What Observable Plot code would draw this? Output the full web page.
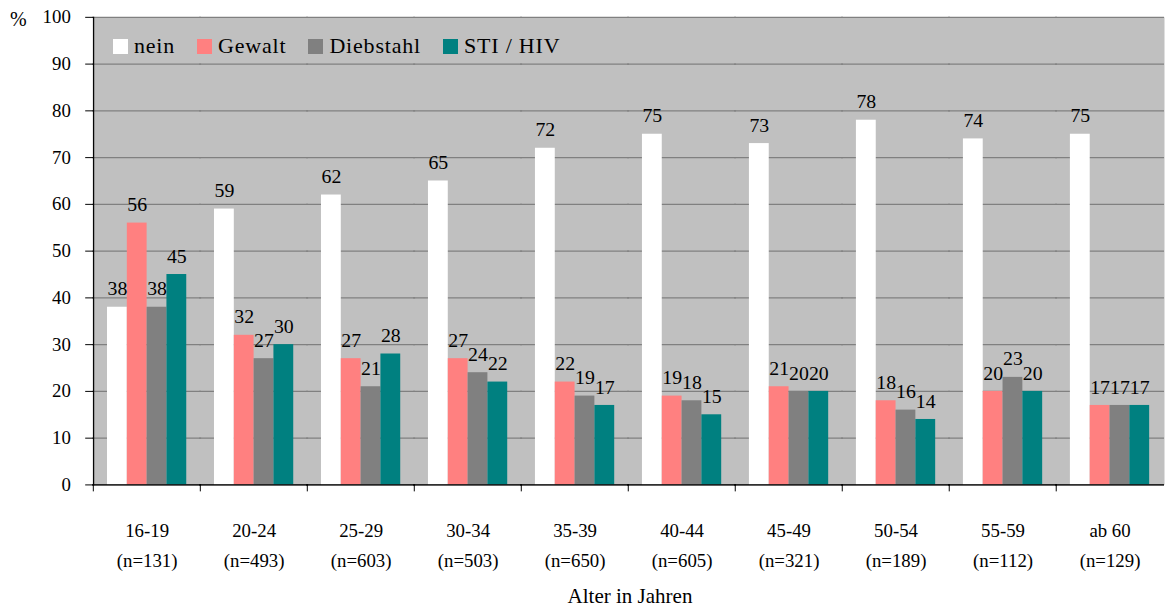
<!DOCTYPE html>
<html>
<head>
<meta charset="utf-8">
<script src="https://cdn.jsdelivr.net/npm/d3@7"></script>
<script src="https://cdn.jsdelivr.net/npm/@observablehq/plot@0.6"></script>
<style>
html, body { margin: 0; padding: 0; background: #fff; overflow: hidden; }
#wrap { position: relative; width: 1166px; height: 608px; overflow: hidden; font-family: "Liberation Serif", serif; color: #000; }
#wrap svg, #wrap svg text { font-family: "Liberation Serif", serif; }
#pct { position: absolute; left: 10px; top: 8px; font-size: 20px; }
#title { position: absolute; left: 0; width: 1260px; top: 584px; text-align: center; font-size: 21px; }
#legend { position: absolute; left: 113px; top: 33px; display: flex; align-items: center; font-size: 22px; letter-spacing: 0.8px; }
#legend .item { display: flex; align-items: center; margin-right: 22px; }
#legend .sw { width: 15px; height: 15px; margin-right: 6px; }
</style>
</head>
<body>
<div id="wrap"></div>
<script>
const groups = ["16-19", "20-24", "25-29", "30-34", "35-39", "40-44", "45-49", "50-54", "55-59", "ab 60"];
const sizes = ["n=131", "n=493", "n=603", "n=503", "n=650", "n=605", "n=321", "n=189", "n=112", "n=129"];
const series = ["nein", "Gewalt", "Diebstahl", "STI / HIV"];
const colors = ["#ffffff", "#ff8080", "#808080", "#008080"];
const nein      = [38, 59, 62, 65, 72, 75, 73, 78, 74, 75];
const gewalt    = [56, 32, 27, 27, 22, 19, 21, 18, 20, 17];
const diebstahl = [38, 27, 21, 24, 19, 18, 20, 16, 23, 17];
const sti       = [45, 30, 28, 22, 17, 15, 20, 14, 20, 17];
const yTicks = [0, 10, 20, 30, 40, 50, 60, 70, 80, 90, 100];
const xTitle = "Alter in Jahren";
const yUnit = "%";

const valueSets = [nein, gewalt, diebstahl, sti];
const data = groups.flatMap((g, i) => series.map((s, j) => ({group: g, series: s, value: valueSets[j][i]})));

const W = 1177, H = 608, mL = 91, mR = 0, mT = 17, mB = 119;
const band = (W - mL - mR) / groups.length;
const FF = "Liberation Serif, serif";

const chart = Plot.plot({
  width: W, height: H,
  marginLeft: mL, marginRight: mR, marginTop: mT, marginBottom: mB,
  style: {fontFamily: FF, fontSize: "18px", background: "transparent", color: "#000"},
  fx: {domain: groups, padding: 0, label: null, axis: null},
  x: {domain: series, paddingInner: 0, paddingOuter: 0.7, axis: null},
  y: {domain: [0, 100], axis: null},
  color: {domain: series, range: colors},
  marks: [
    Plot.frame({fill: "#c0c0c0", stroke: null, insetLeft: -1, insetRight: -1}),
    Plot.gridY(yTicks, {stroke: "#808080", strokeOpacity: 1, strokeWidth: 1.2, insetLeft: -1, insetRight: -1}),
    Plot.barY(data, {fx: "group", x: "series", y: "value", fill: "series"}),
    Plot.text(data, {fx: "group", x: "series", y: "value", text: d => String(d.value), dy: -12, lineAnchor: "bottom", fontSize: 20, fontFamily: FF, fill: "#000"}),
    Plot.ruleY([0], {stroke: "#000", strokeWidth: 1.2, insetLeft: -1, insetRight: -1}),
    Plot.frame({anchor: "left", stroke: "#000", strokeWidth: 1.2, facetAnchor: "left"}),
    Plot.axisY({ticks: yTicks, tickSize: 8, tickPadding: 15, label: null, fontSize: 19, fontFamily: FF, stroke: "#000", facetAnchor: "left"}),
    Plot.axisFx({anchor: "bottom", tickSize: 7, tickFormat: () => "", dx: -band / 2, label: null, stroke: "#000"}),
    Plot.axisFx({anchor: "bottom", tickSize: 0, tickPadding: 31, lineHeight: 1.6, fontSize: 19, fontFamily: FF,
      tickFormat: d => d + "\n(" + sizes[groups.indexOf(d)] + ")",
      label: null, fill: "#000"})
  ]
});

const wrap = document.getElementById("wrap");
wrap.appendChild(chart);

const pct = document.createElement("div");
pct.id = "pct";
pct.textContent = yUnit;
wrap.appendChild(pct);

const title = document.createElement("div");
title.id = "title";
title.textContent = xTitle;
wrap.appendChild(title);

const legend = document.createElement("div");
legend.id = "legend";
series.forEach((s, j) => {
  const item = document.createElement("div");
  item.className = "item";
  const sw = document.createElement("div");
  sw.className = "sw";
  sw.style.background = colors[j];
  const lab = document.createElement("span");
  lab.textContent = s;
  item.appendChild(sw);
  item.appendChild(lab);
  legend.appendChild(item);
});
wrap.appendChild(legend);
</script>
</body>
</html>
